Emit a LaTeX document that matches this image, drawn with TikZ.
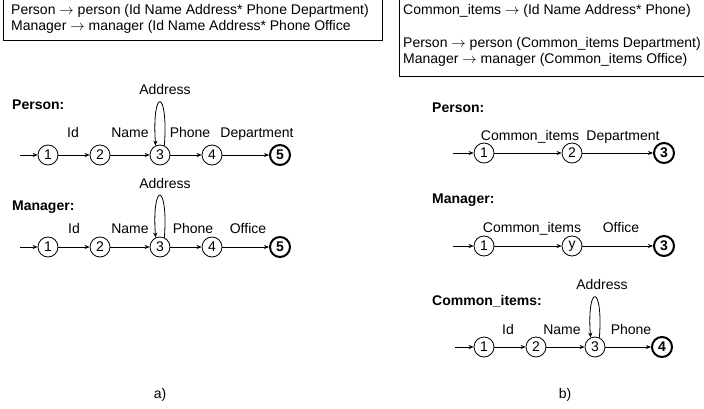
\documentclass[tikz,border=0pt]{standalone}
\usepackage{fontspec}
\setmainfont{Liberation Sans}
\usetikzlibrary{arrows.meta}
\newcommand{\ar}{\ensuremath{\rightarrow}}
\begin{document}
\begin{tikzpicture}[x=1pt,y=-1pt,
  every node/.style={font=\fontsize{14}{16}\selectfont},
  st/.style={circle,draw,line width=0.8pt,minimum size=20pt,inner sep=0pt},
  fin/.style={st,line width=2pt,font=\fontsize{14}{16}\selectfont\bfseries},
  lbl/.style={anchor=base,inner sep=0pt},
  txt/.style={anchor=base west,inner sep=0pt},
  hd/.style={anchor=base west,inner sep=0pt,font=\fontsize{14}{16}\selectfont\bfseries},
  tr/.style={-{Stealth[length=5pt,width=4pt]},line width=0.8pt},
  boxline/.style={line width=0.8pt}]
\useasboundingbox (0,0) rectangle (704,409);

% top boxes
\draw[boxline] (3,-5) rectangle (382,40);
\node[txt] (ta1) at (11,15) {Person \ar{} person (Id Name Address* Phone Department)};
\node[txt] (ta2) at (11,31) {Manager \ar{} manager (Id Name Address* Phone Office};
\draw[boxline] (399,-5) rectangle (712,76);
\node[txt] (tb1) at (403,15) {Common\_items \ar{} (Id Name Address* Phone)};
\node[txt] (tb2) at (403,48) {Person \ar{} person (Common\_items Department)};
\node[txt] (tb3) at (403,64) {Manager \ar{} manager (Common\_items Office)};

% ---- a) Person
\node[hd] (hpa) at (12,110) {Person:};
\coordinate (pa0) at (20,155);
\node[st] (pa1) at (48,155) {1};
\node[st] (pa2) at (100,155) {2};
\node[st] (pa3) at (160,155) {3};
\node[st] (pa4) at (212,155) {4};
\node[fin] (pa5) at (280,155) {5};
\draw[tr] (pa0) -- (pa1);
\draw[tr] (pa1) -- (pa2);
\draw[tr] (pa2) -- (pa3);
\draw[tr] (pa3) -- (pa4);
\draw[tr] (pa4) -- (pa5);
\draw[tr] (pa3.65) .. controls +(4,-58) and +(-4,-58) .. (pa3.115);
\node[lbl] (lpa1) at (73,138) {Id};
\node[lbl] (lpa2) at (130,138) {Name};
\node[lbl] (lpa3) at (190,138) {Phone};
\node[lbl] (lpa4) at (257,138) {Department};
\node[lbl] (lpa5) at (165,95) {Address};

% ---- a) Manager
\node[hd] (hma) at (12,210) {Manager:};
\coordinate (ma0) at (20,247);
\node[st] (ma1) at (48,247) {1};
\node[st] (ma2) at (100,247) {2};
\node[st] (ma3) at (160,247) {3};
\node[st] (ma4) at (212,247) {4};
\node[fin] (ma5) at (280,247) {5};
\draw[tr] (ma0) -- (ma1);
\draw[tr] (ma1) -- (ma2);
\draw[tr] (ma2) -- (ma3);
\draw[tr] (ma3) -- (ma4);
\draw[tr] (ma4) -- (ma5);
\draw[tr] (ma3.65) .. controls +(4,-56) and +(-4,-56) .. (ma3.115);
\node[lbl] (lma1) at (74,233) {Id};
\node[lbl] (lma2) at (130,233) {Name};
\node[lbl] (lma3) at (193,233) {Phone};
\node[lbl] (lma4) at (248,233) {Office};
\node[lbl] (lma5) at (165,188) {Address};

\node[lbl] (capa) at (160,398) {a)};

% ---- b) Person
\node[hd] (hpb) at (432,113) {Person:};
\coordinate (pb0) at (453,153);
\node[st] (pb1) at (484,153) {1};
\node[st] (pb2) at (572,153) {2};
\node[fin] (pb3) at (664,153) {3};
\draw[tr] (pb0) -- (pb1);
\draw[tr] (pb1) -- (pb2);
\draw[tr] (pb2) -- (pb3);
\node[lbl] (lpb1) at (530,140) {Common\_items};
\node[lbl] (lpb2) at (623,140) {Department};

% ---- b) Manager
\node[hd] (hmb) at (432,203) {Manager:};
\coordinate (mb0) at (453,246);
\node[st] (mb1) at (484,246) {1};
\node[st] (mb2) at (572,246) {y};
\node[fin] (mb3) at (664,246) {3};
\draw[tr] (mb0) -- (mb1);
\draw[tr] (mb1) -- (mb2);
\draw[tr] (mb2) -- (mb3);
\node[lbl] (lmb1) at (532,232) {Common\_items};
\node[lbl] (lmb2) at (621,232) {Office};

% ---- b) Common_items
\node[hd] (hcb) at (432,305) {Common\_items:};
\coordinate (cb0) at (455,347);
\node[st] (cb1) at (484,347) {1};
\node[st] (cb2) at (536,347) {2};
\node[st] (cb3) at (595,347) {3};
\node[fin] (cb4) at (662,347) {4};
\draw[tr] (cb0) -- (cb1);
\draw[tr] (cb1) -- (cb2);
\draw[tr] (cb2) -- (cb3);
\draw[tr] (cb3) -- (cb4);
\draw[tr] (cb3.65) .. controls +(4,-54) and +(-4,-54) .. (cb3.115);
\node[lbl] (lcb1) at (508,334) {Id};
\node[lbl] (lcb2) at (562,334) {Name};
\node[lbl] (lcb3) at (631,334) {Phone};
\node[lbl] (lcb4) at (602,289) {Address};

\node[lbl] (capb) at (565,398) {b)};
\end{tikzpicture}
\end{document}
